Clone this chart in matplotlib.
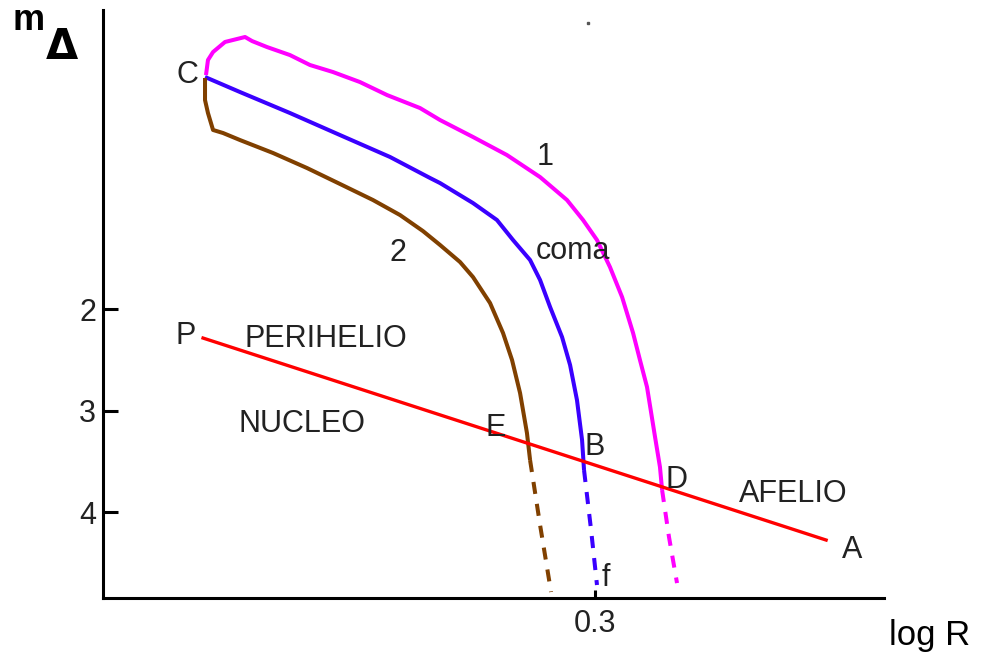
import matplotlib
matplotlib.use("Agg")
import matplotlib.pyplot as plt

plt.rcParams['font.family'] = ['Liberation Sans', 'DejaVu Sans']

# --- data (x = log R, y = magnitude m_Delta) ---
curve1_x = [0.0628, 0.0640, 0.0671, 0.0744, 0.0866, 0.0909, 0.1000, 0.1140, 0.1262, 0.1402,
            0.1567, 0.1732, 0.1933, 0.2055, 0.2256, 0.2463, 0.2665, 0.2829, 0.2927, 0.3012,
            0.3091, 0.3165, 0.3232, 0.3274, 0.3317, 0.3366, 0.3396, 0.3409]
curve1_y = [-0.305, -0.453, -0.532, -0.631, -0.680, -0.640, -0.581, -0.502, -0.404, -0.335,
            -0.236, -0.108, 0.020, 0.138, 0.305, 0.483, 0.700, 0.926, 1.123, 1.320,
            1.586, 1.882, 2.236, 2.502, 2.768, 3.261, 3.557, 3.783]
curve1_dash_x = [0.3409, 0.3451, 0.3500]
curve1_dash_y = [3.783, 4.246, 4.700]

coma_x = [0.0622, 0.0835, 0.1140, 0.1445, 0.1750, 0.1994, 0.2055, 0.2256, 0.2402, 0.2500,
          0.2604, 0.2665, 0.2726, 0.2799, 0.2848, 0.2890, 0.2921, 0.2933]
coma_y = [-0.286, -0.138, 0.069, 0.286, 0.502, 0.709, 0.759, 0.956, 1.123, 1.320,
          1.517, 1.714, 1.980, 2.276, 2.552, 2.897, 3.291, 3.586]
coma_dash_x = [0.2933, 0.2976, 0.3012]
coma_dash_y = [3.586, 4.177, 4.719]

curve2_x = [0.0622, 0.0622, 0.0640, 0.0671, 0.0732, 0.0835, 0.1037, 0.1244, 0.1445, 0.1646,
            0.1811, 0.1951, 0.2055, 0.2177, 0.2256, 0.2360, 0.2439, 0.2494, 0.2543, 0.2585,
            0.2604]
curve2_y = [-0.276, -0.059, 0.069, 0.236, 0.266, 0.335, 0.463, 0.611, 0.768, 0.926,
            1.074, 1.232, 1.369, 1.537, 1.685, 1.941, 2.236, 2.502, 2.828, 3.222,
            3.488]
curve2_dash_x = [0.2604, 0.2665, 0.2732]
curve2_dash_y = [3.488, 4.128, 4.788]

nucleus_x = [0.0610, 0.4409]   # P -> A
nucleus_y = [2.286, 4.276]

y_ticks = [2, 3, 4]
y_ticklabels = ['2', '3', '4']
x_ticks = [0.3]
x_ticklabels = ['0.3']

labels = ['C', '1', '2', 'coma', 'P', 'PERIHELIO', 'NUCLEO', 'E', 'B', 'D', 'AFELIO', 'A', 'f']
label_x = [0.0512, 0.2695, 0.1799, 0.2866, 0.0506, 0.1360, 0.1213, 0.2396, 0.3000, 0.3494, 0.4207, 0.4567, 0.3067]
label_y = [-0.305, 0.502, 1.448, 1.429, 2.266, 2.296, 3.133, 3.172, 3.360, 3.685, 3.823, 4.374, 4.650]

# --- figure ---
fig = plt.figure(figsize=(9.82, 6.60), dpi=100)
ax = fig.add_axes([103/982, 62/660, 781/982, 588/660])

MAG = '#ff00ff'
BLUE = '#3a00ff'
BROWN = '#804000'
RED = '#ff0000'
lw = 2.9

solid_kw = dict(lw=lw, solid_capstyle='butt', solid_joinstyle='round')
dash_kw = dict(lw=lw, dashes=(3, 2.5), dash_capstyle='butt')

ax.plot(curve1_x, curve1_y, color=MAG, **solid_kw)
ax.plot(curve1_dash_x, curve1_dash_y, color=MAG, **dash_kw)
ax.plot(coma_x, coma_y, color=BLUE, **solid_kw)
ax.plot(coma_dash_x, coma_dash_y, color=BLUE, **dash_kw)
ax.plot(curve2_x, curve2_y, color=BROWN, **solid_kw)
ax.plot(curve2_dash_x, curve2_dash_y, color=BROWN, **dash_kw)
ax.plot(nucleus_x, nucleus_y, color=RED, lw=2.4)

for t, x, y in zip(labels, label_x, label_y):
    ax.text(x, y, t, ha='center', va='center', fontsize=22, color='#222222')

ax.set_xlim(0, 0.4762)
ax.set_ylim(4.847, -0.946)

for s in ['top', 'right']:
    ax.spines[s].set_visible(False)
for s in ['left', 'bottom']:
    ax.spines[s].set_linewidth(2.2)
    ax.spines[s].set_color('black')

ax.set_yticks(y_ticks)
ax.set_yticklabels(y_ticklabels)
ax.set_xticks(x_ticks)
ax.set_xticklabels(x_ticklabels)
ax.tick_params(axis='y', direction='in', length=11, width=2.2, pad=5,
               labelsize=22, labelcolor='#222222')
ax.tick_params(axis='x', direction='in', length=6, width=2.2, pad=8,
               labelsize=22, labelcolor='#222222')

fig.text(930/982, 1 - 635/660, 'log R', ha='center', va='center', fontsize=25, color='black')
fig.text(29/982, 1 - 21/660, 'm', ha='center', va='center', fontsize=26, fontweight='bold')
fig.text(62/982, 1 - 47/660, 'Δ', ha='center', va='center', fontsize=30, fontweight='bold',
         family=['DejaVu Sans'])
fig.add_artist(plt.Line2D([588/982], [1 - 23/660], marker='s', markersize=2,
                          color='#555555', transform=fig.transFigure))

fig.savefig('out.png', dpi=100)
